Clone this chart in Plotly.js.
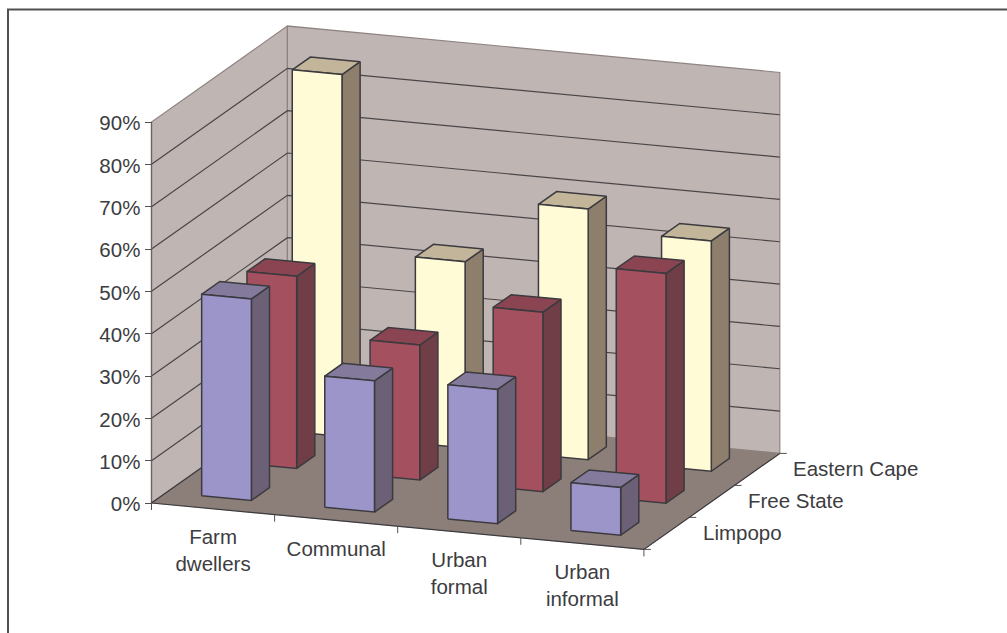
<!DOCTYPE html>
<html>
<head>
<meta charset="utf-8">
<script src="https://cdn.plot.ly/plotly-3.0.1.min.js"></script>
<style>html,body{margin:0;padding:0;background:#fff}</style>
</head>
<body>
<div id="chart" style="width:1007px;height:633px"></div>
<script>
// Share of respondents by settlement type and province
const categories = ['Farm dwellers', 'Communal', 'Urban formal', 'Urban informal'];
const categoryLines = [['Farm', 'dwellers'], ['Communal'], ['Urban', 'formal'], ['Urban', 'informal']];
const seriesNames = ['Limpopo', 'Free State', 'Eastern Cape'];
const limpopo = [47.6, 31.0, 31.7, 11.3];
const freeState = [45.4, 31.9, 42.4, 54.3];
const easternCape = [85.5, 44.0, 59.2, 54.4];
const valueTicks = [0, 10, 20, 30, 40, 50, 60, 70, 80, 90];
const valueLabels = ['0%', '10%', '20%', '30%', '40%', '50%', '60%', '70%', '80%', '90%'];

// Oblique projection: category and depth units are sheared onto the two axes
const PX_PER_CAT = 123.1, PX_PER_PCT = 4.233;
const DEPTH_SKEW = 45.3 / PX_PER_CAT;   // x-axis shift per depth row
const DEPTH_RISE = 32 / PX_PER_PCT;     // y-axis lift per depth row
const CAT_DROP = 11.6 / PX_PER_PCT;     // y-axis drop per category
const P = (u, v, z) => [u + v * DEPTH_SKEW, z - u * CAT_DROP + v * DEPTH_RISE];

const BAR_U0 = 0.286, BAR_V0 = 0.33, BAR_W = 0.404, BAR_D = 0.4;
const nCat = categories.length, nDepth = seriesNames.length, zMax = 90;

const palette = [
  {front: '#9c95c9', side: '#6b6075', top: '#847a9c'},
  {front: '#a5505e', side: '#703e46', top: '#8b4552'},
  {front: '#fffbd6', side: '#8e7e6c', top: '#c2b59a'}
];
const INK = '#3b3a3f', WALL = '#bfb5b3', WALL_EDGE = '#8f8482', FLOOR = '#8c7f79', TEXT = '#3c3c41';

const traces = [];
function poly(pts, fill, lineColor, width) {
  const xs = pts.map(p => p[0]), ys = pts.map(p => p[1]);
  xs.push(xs[0]); ys.push(ys[0]);
  traces.push({x: xs, y: ys, mode: 'lines', fill: 'toself', fillcolor: fill,
    line: {color: lineColor, width: width}, hoverinfo: 'skip', showlegend: false});
}
function path(pts, color, width) {
  traces.push({x: pts.map(p => p[0]), y: pts.map(p => p[1]), mode: 'lines',
    line: {color: color, width: width}, hoverinfo: 'skip', showlegend: false});
}

// Walls and floor
poly([P(0,0,0), P(0,nDepth,0), P(0,nDepth,zMax), P(0,0,zMax)], WALL, WALL_EDGE, 1.2);
poly([P(0,nDepth,0), P(nCat,nDepth,0), P(nCat,nDepth,zMax), P(0,nDepth,zMax)], WALL, WALL_EDGE, 1.2);
valueTicks.slice(1, -1).forEach(z => path([P(0,0,z), P(0,nDepth,z), P(nCat,nDepth,z)], '#4a4648', 1.2));
poly([P(0,0,0), P(nCat,0,0), P(nCat,nDepth,0), P(0,nDepth,0)], FLOOR, FLOOR, 0.5);
path([P(0,0,0), P(0,0,zMax)], '#6b6463', 1.3);
path([P(0,nDepth,0), P(0,0,0), P(nCat,0,0), P(nCat,nDepth,0)], INK, 1.2);

// Floor ticks along the category and depth edges
const TICK_CAT = 7 / PX_PER_PCT, TICK_DEPTH = 7 / PX_PER_CAT;
for (let u = 0; u <= nCat; u++) {
  const b = P(u, 0, 0);
  path([b, [b[0], b[1] - TICK_CAT]], '#55504f', 1);
}
for (let v = 0; v <= nDepth; v++) {
  const b = P(nCat, v, 0);
  path([b, [b[0] + TICK_DEPTH, b[1]]], '#55504f', 1);
}

// Bars, drawn back row first so nearer rows cover them
const rows = [limpopo, freeState, easternCape];
for (let r = nDepth - 1; r >= 0; r--) {
  rows[r].forEach((val, c) => {
    const u0 = c + BAR_U0, u1 = u0 + BAR_W, v0 = r + BAR_V0, v1 = v0 + BAR_D;
    const col = palette[r];
    poly([P(u1,v0,0), P(u1,v1,0), P(u1,v1,val), P(u1,v0,val)], col.side, INK, 1.5);
    poly([P(u0,v0,val), P(u1,v0,val), P(u1,v1,val), P(u0,v1,val)], col.top, INK, 1.5);
    poly([P(u0,v0,0), P(u1,v0,0), P(u1,v0,val), P(u0,v0,val)], col.front, INK, 1.5);
  });
}

// Category labels below the front edge, one entry per line of text
const FONT = 'Liberation Sans, Arial, sans-serif', FONT_SIZE = 20.5;
const catX = [], catY = [], catT = [];
categoryLines.forEach((lines, c) => lines.forEach((t, i) => {
  const p = P(c + 0.5, 0, -7.1 - i * 6.35);
  catX.push(p[0]); catY.push(p[1]); catT.push(t);
}));
traces.push({x: catX, y: catY, text: catT, mode: 'text', textposition: 'middle center',
  textfont: {family: FONT, size: FONT_SIZE, color: TEXT},
  hoverinfo: 'skip', showlegend: false});

// Series labels beside the depth edge
const LABEL_OFFSET = 35 / PX_PER_CAT;
const annotations = seriesNames.map((name, r) => {
  const p = P(nCat, r + 0.5, 0);
  return {x: p[0] + LABEL_OFFSET, y: p[1] + 0.1, xref: 'x', yref: 'y', text: name, showarrow: false,
    xanchor: 'left', yanchor: 'middle', borderpad: 0,
    font: {family: FONT, size: FONT_SIZE, color: TEXT}};
});

// The floor origin sits 503 px down the page; the value axis is pinned to the left wall edge
const layout = {
  width: 1007, height: 633, margin: {l: 0, r: 0, t: 0, b: 0},
  paper_bgcolor: '#ffffff', plot_bgcolor: '#ffffff', showlegend: false,
  hovermode: false,
  xaxis: {visible: false, range: [-151.5 / PX_PER_CAT, 855.5 / PX_PER_CAT], fixedrange: true},
  yaxis: {
    range: [-130 / PX_PER_PCT, 503 / PX_PER_PCT], anchor: 'free', position: 151.5 / 1007,
    tickmode: 'array', tickvals: valueTicks, ticktext: valueLabels,
    ticks: 'outside', ticklen: 7, tickwidth: 1, tickcolor: '#55504f',
    ticklabelshift: 1,
    showgrid: false, zeroline: false, showline: false, fixedrange: true,
    tickfont: {family: FONT, size: FONT_SIZE, color: TEXT}
  },
  annotations: annotations,
  shapes: [{type: 'path', xref: 'paper', yref: 'paper',
    path: 'M 0.00794 0 L 0.00794 0.9850 L 1 0.9850', line: {color: '#505052', width: 2}}]
};
Plotly.newPlot('chart', traces, layout, {displayModeBar: false, staticPlot: true});
</script>
</body>
</html>
